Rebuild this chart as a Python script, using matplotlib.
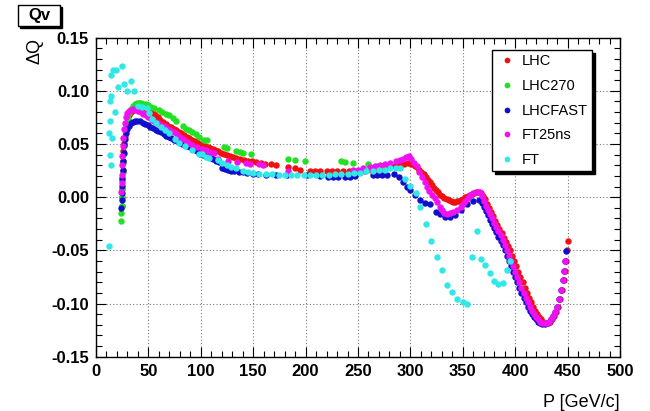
import matplotlib.pyplot as plt
from matplotlib.patches import Rectangle
from matplotlib.ticker import MultipleLocator

plt.rcParams['font.family'] = ['Liberation Sans', 'DejaVu Sans']

# (P [GeV/c], dQ)
lhc = [(24.5,-0.008),(24.7,0.000),(24.9,0.008),(25.1,0.016),(25.4,0.025),(25.7,0.034),(26.1,0.043),
       (26.6,0.051),(27.2,0.058),(28.0,0.064),(29.0,0.069),(30.2,0.073),(31.6,0.077),(33.2,0.080),
       (35.0,0.082),(37.0,0.0835),(39.2,0.0845),(41.5,0.085),(44.0,0.0848),(46.5,0.084),(49.0,0.0825),
       (51.5,0.081),(54.0,0.079),(56.5,0.077),(59.0,0.075),(61.5,0.073),(64.0,0.071),(66.5,0.069),
       (69.0,0.067),(71.5,0.066),(74.0,0.064),(76.5,0.063),(79.0,0.0615),(81.5,0.060),(84.0,0.0585),
       (86.5,0.057),(89.0,0.0555),(91.5,0.054),(94.0,0.053),(96.5,0.0515),(99.0,0.050),(101.5,0.049),
       (104,0.048),(106.5,0.047),(109,0.046),(111.5,0.045),(114,0.044),(116.5,0.043),(119,0.042),
       (122,0.041),(125,0.040),(128,0.039),(131,0.038),(134,0.037),(137,0.036),(141,0.035),(145,0.034),
       (149,0.034),(153,0.033),(157,0.032),(161,0.031),(167,0.031),(172,0.030),(183,0.028),(190,0.027),
       (195,0.026),(204,0.025),(209,0.025),(214,0.0245),(220,0.0245),(225,0.0245),(230,0.0245),
       (236,0.0245),(241,0.0245),(246,0.0245),(251,0.025),(257,0.025),(262,0.0255),(266,0.026),
       (271,0.0265),(276,0.027),(281,0.028),(285,0.029),(290,0.030),(294,0.031),(297.5,0.032),
       (300.5,0.0315),(302.5,0.031),(304.5,0.0295),(306.5,0.028),(308.5,0.026),(310.5,0.024),
       (312.5,0.0215),(314.5,0.019),(316.5,0.0165),(318.5,0.014),(320.5,0.0115),(322.5,0.009),
       (324.5,0.0065),(326.5,0.0045),(328.5,0.0025),(330.5,0.001),(332.5,-0.0005),(334.5,-0.002),
       (336.5,-0.003),(338.5,-0.004),(340.5,-0.0045),(342.5,-0.0045),(344.5,-0.004),(346.5,-0.0035),
       (348.5,-0.0025),(350.5,-0.0015),(352.5,0.000),(354.5,0.001),(356.5,0.002),(358.5,0.003),
       (360.5,0.004),(362.5,0.0045),(364.5,0.0045),(367,0.004),(369,0.001),(371,-0.002),(373,-0.006),
       (375,-0.010),(377,-0.014),(379,-0.018),(381,-0.022),(383,-0.026),(385,-0.030),(387,-0.034),
       (389,-0.038),(391,-0.042),(393,-0.046),(395,-0.050),(397,-0.055),(399,-0.060),(401,-0.065),
       (403,-0.070),(405,-0.075),(407,-0.080),(409,-0.085),(411,-0.090),(413,-0.095),(415,-0.099),
       (417,-0.103),(419,-0.107),(421,-0.110),(423,-0.113),(425,-0.115),(427,-0.117),(429,-0.118),
       (431,-0.118),(433,-0.117),(435,-0.115),(437,-0.112),(439,-0.108),(441,-0.103),(443,-0.096),
       (445,-0.087),(446.5,-0.078),(447.5,-0.069),(448.5,-0.060),(449.5,-0.050),(450.5,-0.041)]

lhc270 = [(24.3,-0.022),(24.3,-0.015),(24.4,-0.008),(24.6,0.000),(24.8,0.008),(25.0,0.016),
          (25.3,0.024),(25.6,0.032),(26.0,0.040),(26.5,0.048),(27.1,0.056),(27.9,0.063),(28.9,0.069),
          (30.1,0.074),(31.5,0.079),(33.2,0.083),(35.0,0.086),(37.0,0.088),(39.0,0.089),(41.0,0.089),
          (43.0,0.0885),(45.0,0.088),(47.5,0.088),(50.0,0.087),(52.5,0.085),(55.0,0.0835),(60.0,0.082),
          (63.0,0.080),(66.5,0.078),(70.0,0.077),(73.0,0.0745),(76.0,0.072),(83.0,0.067),(86.0,0.0645),
          (89.0,0.063),(92.0,0.061),(95.5,0.059),(98.7,0.057),(103.0,0.054),(105.5,0.0535),
          (122.0,0.047),(125.0,0.046),(134.0,0.043),(137.0,0.0425),(140.0,0.042),(148.0,0.041),
          (183.0,0.0355),(190.0,0.0348),(199.5,0.0337),(234.0,0.0337),(237.5,0.033),(245.5,0.0325),
          (260.0,0.0315),(268.0,0.029),(271.0,0.028)]

lhcfast = [(24.3,-0.010),(24.5,-0.003),(24.7,0.004),(24.9,0.011),(25.2,0.018),(25.5,0.026),
           (25.9,0.034),(26.4,0.042),(27.0,0.049),(27.8,0.055),(28.8,0.060),(30.0,0.064),(31.4,0.067),
           (33.0,0.0695),(35.0,0.071),(37.0,0.072),(39.5,0.072),(42.0,0.0715),(44.5,0.070),(47.0,0.069),
           (49.5,0.0675),(52.0,0.066),(54.5,0.065),(57.0,0.0635),(59.5,0.062),(62.0,0.061),(64.5,0.0595),
           (67.0,0.058),(69.5,0.057),(72.0,0.0555),(74.5,0.054),(77.0,0.053),(79.5,0.052),(82.0,0.050),
           (84.5,0.049),(87.0,0.048),(89.5,0.047),(92.0,0.046),(94.5,0.044),(97.0,0.0425),(99.5,0.041),
           (102.0,0.0395),(104.5,0.0385),(107.0,0.0375),(109.5,0.0365),(112.0,0.0355),(114.5,0.0345),
           (117.0,0.0335),(120.0,0.027),(123.0,0.0265),(126.0,0.026),(129.0,0.025),(132.0,0.0245),
           (136.0,0.024),(140.0,0.0235),(144.0,0.023),(150.0,0.022),(155.0,0.022),(162.0,0.021),
           (172.0,0.0205),(182.0,0.0205),(201.0,0.0205),(214.0,0.020),(221.0,0.019),(226.0,0.019),
           (231.0,0.019),(237.5,0.019),(242.0,0.019),(247.0,0.0195),(264.0,0.0205),(268.0,0.021),
           (273.0,0.021),(278.0,0.021),(284.0,0.0215),(289.0,0.019),(293.0,0.014),(296.5,0.010),
           (300.0,0.007),(304.5,0.002),(309.0,-0.003),(314.0,-0.005),(319.0,-0.006),(324.0,-0.0135),
           (328.5,-0.016),(333.0,-0.019),(338.0,-0.019),(343.0,-0.017),(348.0,-0.0125),(354.0,-0.006),
           (360.0,-0.004),(365.0,-0.003),(368,-0.005),(370,-0.009),(372,-0.013),(374,-0.017),
           (376,-0.021),(378,-0.025),(380,-0.029),(382,-0.033),(384,-0.037),(386,-0.041),(388,-0.045),
           (390,-0.050),(392,-0.055),(394,-0.060),(396,-0.065),(398,-0.070),(400,-0.075),(402,-0.080),
           (404,-0.085),(406,-0.090),(408,-0.095),(410,-0.099),(412,-0.103),(414,-0.107),(416,-0.110),
           (418,-0.113),(420,-0.115),(422,-0.117),(424,-0.118),(426,-0.119),(428,-0.119),(430,-0.118),
           (432,-0.117),(434,-0.115),(436,-0.112),(438,-0.108),(440,-0.103),(442,-0.096),(444,-0.087),
           (445.5,-0.078),(446.5,-0.069),(447.5,-0.060),(448.5,-0.051)]

ft25ns = [(24.2,0.005),(24.4,0.013),(24.6,0.021),(24.9,0.030),(25.2,0.039),(25.6,0.048),(26.1,0.056),
          (26.8,0.064),(27.6,0.070),(28.6,0.075),(29.8,0.079),(31.2,0.081),(33.0,0.082),(35.0,0.0825),
          (37.5,0.082),(40.0,0.081),(42.5,0.080),(45.0,0.0785),(47.5,0.077),(50.0,0.075),(53.0,0.073),
          (56.0,0.071),(59.0,0.0695),(62.0,0.068),(65.0,0.067),(68.0,0.065),(71.0,0.063),(74.0,0.061),
          (77.0,0.059),(80.0,0.057),(83.0,0.055),(86.0,0.053),(89.0,0.051),(92.0,0.049),(96.0,0.047),
          (101.5,0.0457),(105.0,0.044),(109.0,0.0425),(113.0,0.0415),(116.0,0.036),(126.0,0.034),
          (135.0,0.033),(143.0,0.032),(147.0,0.0315),(156.0,0.031),(159.0,0.0305),(183.0,0.0245),
          (245.0,0.026),(250.0,0.026),(255.0,0.027),(261.0,0.028),(266.0,0.029),(271.0,0.030),
          (276.0,0.031),(281.0,0.0325),(286.0,0.034),(290.0,0.035),(293.0,0.036),(296.0,0.038),
          (298.5,0.0385),(301.0,0.036),(303.5,0.032),(306.0,0.029),(308.5,0.024),(311.0,0.019),
          (313.5,0.014),(316.0,0.0094),(318.0,0.006),(320.5,0.0023),(323.0,-0.001),(325.7,-0.0047),
          (328.0,-0.009),(330.0,-0.0125),(332.5,-0.0145),(335.0,-0.0157),(338.0,-0.015),(341.0,-0.014),
          (344.5,-0.012),(348.0,-0.0094),(350.5,-0.006),(352.5,-0.004),(355.0,-0.0005),(357.0,0.0025),
          (360.0,0.004),(363.5,0.005),(366.0,0.005),(368,0.001),(370,-0.004),(372,-0.008),(374,-0.012),
          (376,-0.016),(378,-0.020),(380,-0.024),(382,-0.028),(384,-0.032),(386,-0.036),(388,-0.040),
          (390,-0.045),(392,-0.050),(394,-0.055),(396,-0.060),(398,-0.065),(400,-0.070),(402,-0.075),
          (404,-0.080),(406,-0.085),(408,-0.090),(410,-0.095),(412,-0.099),(414,-0.103),(416,-0.107),
          (418,-0.110),(420,-0.113),(422,-0.115),(424,-0.117),(426,-0.118),(428,-0.118),(430,-0.118),
          (432,-0.117),(434,-0.115),(436,-0.112),(438,-0.108),(440,-0.103),(442,-0.096),(444,-0.087),
          (445.5,-0.078),(446.5,-0.069),(447.5,-0.060)]

ft = [(12.5,-0.046),(13.1,0.040),(14.4,0.030),(12.5,0.060),(15.6,0.056),(13.1,0.072),(17.9,0.080),
      (13.4,0.090),(14.7,0.095),(21.0,0.104),(14.7,0.115),(16.6,0.120),(18.8,0.120),(25.2,0.123),
      (26.8,0.106),(33.2,0.109),(30.0,0.100),(36.4,0.100),
      (40.0,0.086),(44.0,0.085),(48.9,0.084),(51.0,0.079),(53.6,0.074),(57.0,0.070),(62.0,0.066),
      (66.0,0.063),(70.0,0.060),(75.0,0.055),(79.5,0.051),(85.0,0.048),(92.0,0.044),(98.0,0.041),
      (101.5,0.041),(105.0,0.038),(108.0,0.037),(116.0,0.035),(120.0,0.032),(125.0,0.030),
      (129.0,0.028),(134.0,0.027),(140.0,0.025),(145.0,0.024),(150.0,0.023),(156.0,0.022),
      (162.0,0.022),(168.0,0.0215),(175.0,0.021),(180.0,0.021),(186.0,0.021),(192.0,0.0205),
      (198.0,0.0205),(204.0,0.0205),(210.0,0.0205),(216.0,0.021),(222.0,0.021),(228.0,0.0215),
      (234.0,0.022),(240.0,0.022),(246.0,0.0225),(252.0,0.023),(258.0,0.025),(264.0,0.025),
      (270.0,0.026),(276.0,0.026),(281.0,0.027),(286.0,0.027),(290.0,0.027),(295.0,0.017),
      (300.0,0.011),(305.0,0.0035),(309.0,-0.0094),(315.0,-0.025),(320.0,-0.041),(325.0,-0.056),
      (330.0,-0.068),(335.0,-0.083),(340.0,-0.0895),(344.5,-0.0956),(350.0,-0.099),(354.0,-0.100),
      (359.0,-0.056),(363.5,-0.032),(367.5,-0.058),(371.6,-0.064),(376.4,-0.071),(380.0,-0.079),
      (384.0,-0.082),(388.6,-0.081),(391.8,-0.068),(394.6,-0.060)]

labels = ['LHC', 'LHC270', 'LHCFAST', 'FT25ns', 'FT']
colors = ['#f01010', '#22e022', '#1010cc', '#f010f0', '#30e8e8']

x_ticks = [0, 50, 100, 150, 200, 250, 300, 350, 400, 450, 500]
y_ticks = [-0.15, -0.10, -0.05, 0.00, 0.05, 0.10, 0.15]
y_tick_labels = ['-0.15', '-0.10', '-0.05', '0.00', '0.05', '0.10', '0.15']

W, H = 650, 411
fig = plt.figure(figsize=(W / 100, H / 100), dpi=100)
ax = fig.add_axes([96 / W, 1 - 356.7 / H, (620 - 96) / W, (356.7 - 37.7) / H])

for data, col, lab in zip([lhc, lhc270, lhcfast, ft25ns, ft], colors, labels):
    p = [d[0] for d in data]
    dq = [d[1] for d in data]
    ax.plot(p, dq, 'o', ms=4.6, mew=0, color=col, label=lab)

ax.set_xlim(0, 500)
ax.set_ylim(-0.15, 0.15)
ax.set_xticks(x_ticks, [str(t) for t in x_ticks], fontsize=12, fontweight='bold')
ax.set_yticks(y_ticks, y_tick_labels, fontsize=12, fontweight='bold')
ax.xaxis.set_minor_locator(MultipleLocator(10))
ax.yaxis.set_minor_locator(MultipleLocator(0.01))
ax.tick_params(which='both', direction='in', top=True, right=True, width=0.8)
ax.tick_params(which='major', length=7, pad=5)
ax.tick_params(which='minor', length=4)
ax.grid(True, which='major', color='#777777', linestyle=(0, (1, 2)), linewidth=0.8)
for s in ax.spines.values():
    s.set_linewidth(1.0)

leg = ax.legend(loc='upper left', bbox_to_anchor=(492 / W, 1 - 50 / H), bbox_transform=fig.transFigure,
                borderaxespad=0, fancybox=False, edgecolor='black', framealpha=1, fontsize=10.5,
                handlelength=1.5, handletextpad=0.25, labelspacing=0.73, borderpad=0.3,
                markerscale=0.9, shadow={'color': 'black', 'alpha': 1})
leg.get_frame().set_linewidth(1.0)

fig.text(620 / W, 1 - 402 / H, 'P [GeV/c]', ha='right', va='center', fontsize=13)
fig.text(35 / W, 1 - 51 / H, 'ΔQ', ha='center', va='center', rotation=90, fontsize=13)

# "Qv" title box with shadow
fig.patches.append(Rectangle((20 / W, 1 - 28 / H), 42 / W, 21 / H, transform=fig.transFigure,
                             facecolor='black', edgecolor='black'))
fig.patches.append(Rectangle((18 / W, 1 - 26 / H), 42 / W, 21 / H, transform=fig.transFigure,
                             facecolor='white', edgecolor='black', linewidth=1.0))
fig.text(39 / W, 1 - 15.5 / H, 'Qv', ha='center', va='center', fontsize=12, fontweight='bold')

fig.savefig('out.png', dpi=100)
